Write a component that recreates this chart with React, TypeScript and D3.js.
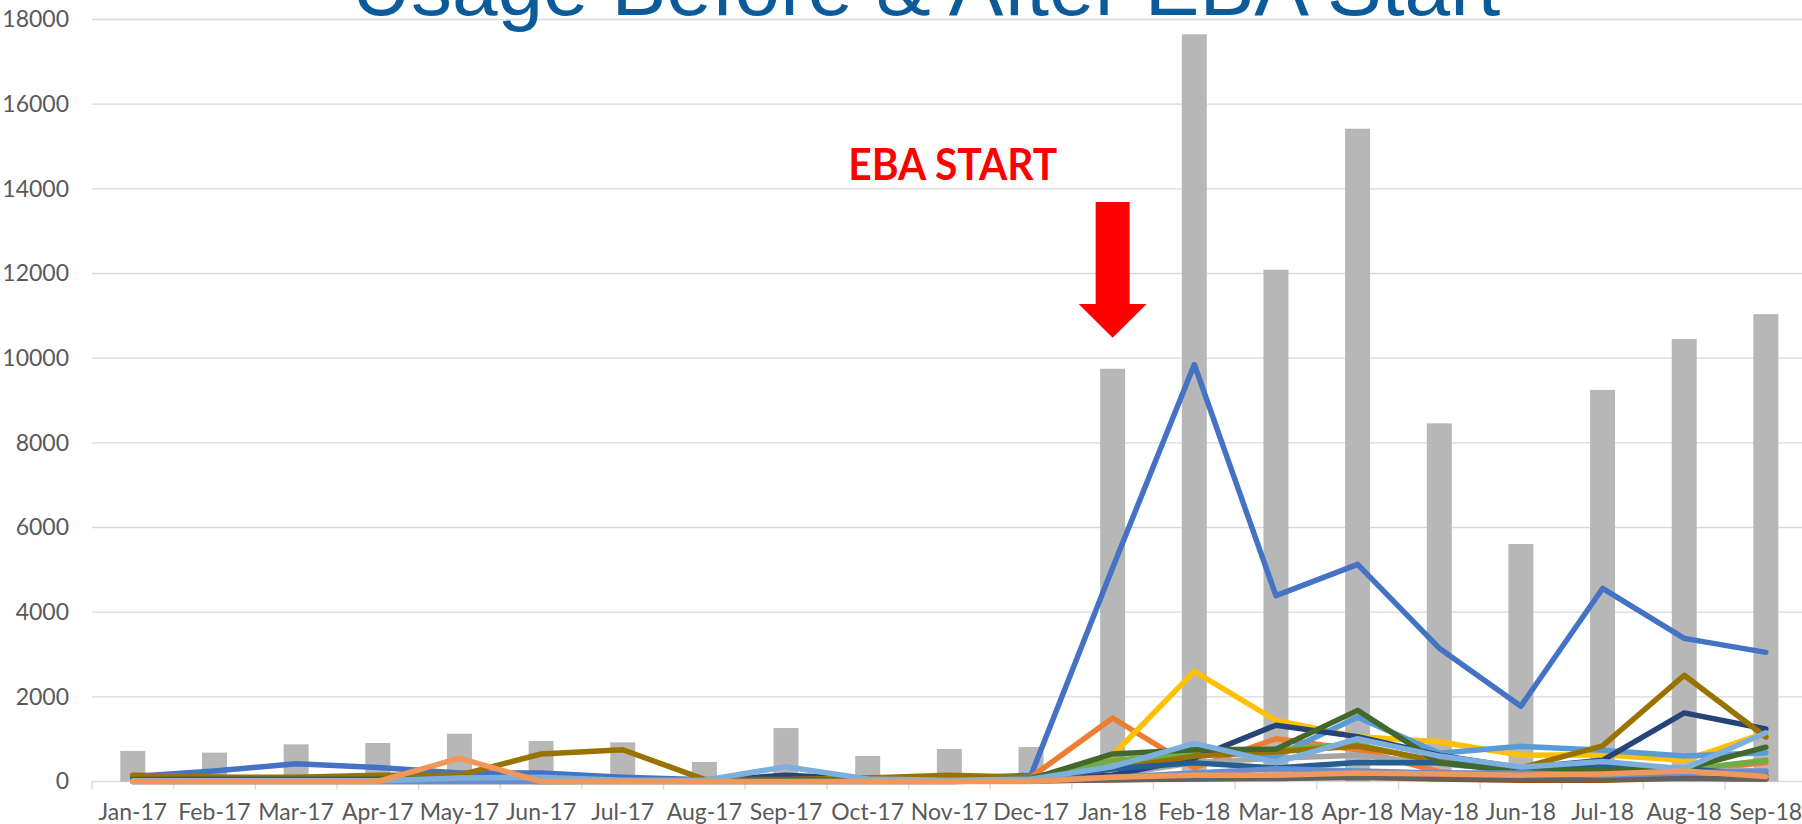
import React, { useEffect, useRef } from "react";
import { select, scaleBand, scaleLinear, line, axisLeft, axisBottom } from "d3";

const months = [
  "Jan-17", "Feb-17", "Mar-17", "Apr-17", "May-17", "Jun-17", "Jul-17",
  "Aug-17", "Sep-17", "Oct-17", "Nov-17", "Dec-17", "Jan-18", "Feb-18",
  "Mar-18", "Apr-18", "May-18", "Jun-18", "Jul-18", "Aug-18", "Sep-18",
];

const yTicks = [0, 2000, 4000, 6000, 8000, 10000, 12000, 14000, 16000, 18000];

// grey columns (total usage)
const totalUsage = [722, 682, 878, 910, 1129, 957, 925, 463, 1263, 604, 769, 816, 9750, 17650, 12090, 15420, 8460, 5610, 9250, 10450, 11040];

// individual lines
const blue = [120, 250, 420, 330, 200, 200, 100, 40, 60, 80, 70, 150, 5050, 9850, 4390, 5130, 3150, 1780, 4560, 3380, 3050];
const orange = [150, 100, 80, 60, 50, 30, 20, 20, 40, 30, 20, 100, 1500, 320, 1010, 750, 230, 50, 100, 250, 450];
const grey = [30, 30, 30, 30, 30, 30, 30, 20, 20, 20, 20, 30, 150, 450, 550, 620, 420, 260, 330, 300, 250];
const gold = [0, 0, 0, 0, 0, 0, 0, 0, 0, 0, 0, 50, 620, 2600, 1440, 1060, 940, 620, 630, 500, 1150];
const lightBlue = [0, 0, 0, 0, 0, 0, 0, 0, 0, 0, 0, 30, 350, 700, 600, 1520, 670, 830, 740, 600, 680];
const green = [20, 20, 20, 20, 20, 20, 20, 20, 20, 20, 20, 30, 500, 650, 750, 870, 450, 300, 350, 280, 500];
const navy = [80, 50, 50, 40, 40, 30, 20, 20, 150, 60, 40, 50, 150, 550, 1330, 1060, 620, 320, 500, 1620, 1240];
const brown = [20, 20, 20, 20, 20, 20, 20, 20, 20, 20, 20, 20, 40, 60, 80, 100, 60, 30, 30, 80, 60];
const darkGrey = [10, 10, 10, 10, 10, 10, 10, 10, 10, 10, 10, 10, 40, 70, 70, 100, 80, 60, 60, 70, 60];
const olive = [150, 100, 100, 150, 150, 650, 750, 50, 50, 80, 150, 100, 300, 600, 700, 840, 480, 320, 840, 2510, 1050];
const steelBlue = [30, 30, 30, 30, 30, 30, 30, 30, 30, 30, 30, 50, 300, 440, 320, 450, 440, 320, 380, 300, 150];
const darkGreen = [50, 60, 60, 60, 50, 0, 10, 20, 20, 20, 30, 60, 650, 750, 760, 1680, 440, 230, 280, 300, 810];
const midBlue = [0, 0, 0, 0, 0, 0, 0, 0, 0, 0, 0, 30, 100, 200, 300, 250, 200, 200, 150, 200, 250];
const paleBlue = [20, 20, 20, 20, 80, 100, 30, 30, 350, 60, 30, 60, 350, 900, 450, 1010, 600, 340, 470, 300, 1150];
const salmon = [0, 0, 0, 0, 550, 0, 0, 0, 0, 0, 0, 0, 100, 150, 150, 200, 180, 150, 180, 250, 120];

const seriesList = [
  { values: blue, color: "#4472C4" },
  { values: orange, color: "#ED7D31" },
  { values: grey, color: "#A5A5A5" },
  { values: gold, color: "#FFC000" },
  { values: lightBlue, color: "#5B9BD5" },
  { values: green, color: "#70AD47" },
  { values: navy, color: "#264478" },
  { values: brown, color: "#9E480E" },
  { values: darkGrey, color: "#636363" },
  { values: olive, color: "#997300" },
  { values: steelBlue, color: "#255E91" },
  { values: darkGreen, color: "#43682B" },
  { values: midBlue, color: "#698ED0" },
  { values: paleBlue, color: "#7CAFDD" },
  { values: salmon, color: "#F1975A" },
];

const W = 1802;
const H = 824;
const labelFont = "Lato, 'Liberation Sans', sans-serif";

const App = () => {
  const svgRef = useRef(null);

  useEffect(() => {
    const svg = select(svgRef.current);
    svg.selectAll("*").remove();

    const x = scaleBand().domain(months).range([92, 1806.7]);
    const y = scaleLinear().domain([0, 18000]).range([781.5, 19.5]);
    const bw = x.bandwidth();
    const barW = bw * 0.306;
    const cx = (m) => x(m) + bw / 2;

    // gridlines
    svg
      .append("g")
      .selectAll("line")
      .data(yTicks)
      .join("line")
      .attr("x1", 92)
      .attr("x2", W)
      .attr("y1", (d) => y(d))
      .attr("y2", (d) => y(d))
      .attr("stroke", "#D9D9D9")
      .attr("stroke-width", 1.4);

    // category tick marks
    svg
      .append("g")
      .selectAll("line")
      .data(months.concat(["end"]))
      .join("line")
      .attr("x1", (d, i) => 92 + i * x.step())
      .attr("x2", (d, i) => 92 + i * x.step())
      .attr("y1", y(0))
      .attr("y2", y(0) + 8)
      .attr("stroke", "#D9D9D9")
      .attr("stroke-width", 1.4);

    const yAxis = axisLeft(y)
      .tickValues(yTicks)
      .tickFormat((d) => String(d))
      .tickSize(0)
      .tickPadding(23);
    const yG = svg.append("g").attr("transform", "translate(92,0)").call(yAxis);
    yG.select(".domain").remove();
    yG.selectAll("text")
      .attr("fill", "#595959")
      .style("font-family", labelFont)
      .style("font-size", "23px");

    const xAxis = axisBottom(x).tickSize(0).tickPadding(22);
    const xG = svg.append("g").attr("transform", `translate(0,${y(0)})`).call(xAxis);
    xG.select(".domain").remove();
    xG.selectAll("text")
      .attr("fill", "#595959")
      .style("font-family", labelFont)
      .style("font-size", "23px");

    // bars
    svg
      .append("g")
      .selectAll("rect")
      .data(totalUsage)
      .join("rect")
      .attr("x", (d, i) => cx(months[i]) - barW / 2)
      .attr("width", barW)
      .attr("y", (d) => y(d))
      .attr("height", (d) => y(0) - y(d))
      .attr("fill", "#B7B7B7");

    // lines
    const lineGen = line()
      .x((d, i) => cx(months[i]))
      .y((d) => y(d));

    svg
      .append("g")
      .selectAll("path")
      .data(seriesList)
      .join("path")
      .attr("d", (s) => lineGen(s.values))
      .attr("fill", "none")
      .attr("stroke", (s) => s.color)
      .attr("stroke-width", 5.5)
      .attr("stroke-linejoin", "round")
      .attr("stroke-linecap", "round");

    // title
    svg
      .append("text")
      .attr("x", 926)
      .attr("y", 15)
      .attr("text-anchor", "middle")
      .attr("fill", "#0B5B9B")
      .style("font-family", "'Liberation Sans', Arial, sans-serif")
      .style("font-size", "82px")
      .text("Usage Before & After EBA Start");

    // EBA start annotation
    const ax = cx("Jan-18");
    const tipY = y(10480);
    const headY = y(11280);
    const topY = y(13690);
    svg
      .append("path")
      .attr(
        "d",
        `M${ax - 17},${topY} L${ax + 17},${topY} L${ax + 17},${headY} L${ax + 34},${headY} L${ax},${tipY} L${ax - 34},${headY} L${ax - 17},${headY} Z`
      )
      .attr("fill", "#FF0000");

    svg
      .append("text")
      .attr("x", x("Dec-17") - 142)
      .attr("y", y(14210))
      .attr("textLength", 209)
      .attr("lengthAdjust", "spacingAndGlyphs")
      .attr("fill", "#FF0000")
      .style("font-family", labelFont)
      .style("font-weight", 700)
      .style("font-size", "43px")
      .text("EBA START");
  }, []);

  return (
    <svg
      ref={svgRef}
      width={W}
      height={H}
      style={{ position: "absolute", left: 0, top: 0, display: "block", background: "#fff" }}
    />
  );
};

export default App;
